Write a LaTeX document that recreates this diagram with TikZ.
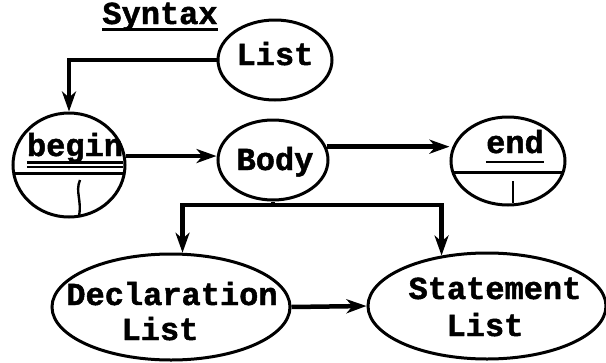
\documentclass[tikz,border=0pt]{standalone}
\usepackage{fontspec}
\setmonofont{Liberation Mono}[BoldFeatures={FakeBold=1.5}]
\usetikzlibrary{shapes.geometric,arrows.meta}
\begin{document}
\begin{tikzpicture}[x=1pt,y=-1pt,
    bubble/.style={draw,ellipse,line width=3pt,inner sep=0pt},
    word/.style={inner sep=0pt,anchor=base,font=\ttfamily\bfseries\fontsize{32}{36}\selectfont},
    flow/.style={line width=4.5pt,-{Stealth[length=20pt,width=14pt,inset=6pt]}},
    rule/.style={line width=2.4pt}]
    \useasboundingbox[fill=white] (0,0) rectangle (606,362);
        \draw
        (275,60) node[bubble,minimum width=114pt,minimum height=80pt] (list) {}
        (69,165) node[bubble,minimum width=112pt,minimum height=104pt] (beginN) {}
        (273,160) node[bubble,minimum width=110pt,minimum height=80pt] (body) {}
        (508,161) node[bubble,minimum width=114pt,minimum height=88pt] (endN) {}
        (171,307) node[bubble,minimum width=238pt,minimum height=106pt] (decl) {}
        (487,306) node[bubble,minimum width=238pt,minimum height=106pt] (stmt) {}
        (160,24) node[word] (syntaxT) {Syntax}
        (275,65) node[word] (listT) {List}
        (75,156) node[word] (beginT) {begin}
        (275,170) node[word] (bodyT) {Body}
        (515,153) node[word] (endT) {end}
        (172,305) node[word] (declA) {Declaration}
        (160,340) node[word] (declB) {List}
        (495,299) node[word] (stmtA) {Statement}
        (485,336) node[word] (stmtB) {List}
        ;
        \draw[rule,line width=3pt] ([yshift=-5pt]syntaxT.base west) -- ([yshift=-5pt]syntaxT.base east);
        \draw[rule,line width=3pt] ([yshift=-6pt]beginT.base west) -- ([yshift=-6pt]beginT.base east);
        \draw[rule] ([yshift=-11pt]beginT.base west) -- ([yshift=-11pt]beginT.base east);
        \draw[rule] ([yshift=-9pt]endT.base west) -- ([yshift=-9pt]endT.base east);
        \draw[rule,line width=3pt,shorten <=1.5pt,shorten >=1.5pt] ([yshift=-8pt]beginN.west) -- ([yshift=-8pt]beginN.east);
        \draw[rule,line width=3pt,shorten <=3pt,shorten >=3pt] ([yshift=-11pt]endN.west) -- ([yshift=-11pt]endN.east);
        \draw[rule] ([shift={(11,15)}]beginN.center) .. controls ([shift={(6,27)}]beginN.center) and ([shift={(13,35)}]beginN.center) .. ([shift={(10,51)}]beginN.center);
        \draw[rule] ([shift={(5,20)}]endN.center) -- ([shift={(5,42)}]endN.center);
        \coordinate (fork) at (273,205);
        \draw[flow] (list.west) -| (beginN.north);
        \draw[flow] (beginN.9) -- (beginN.9 -| body.west);
        \draw[flow] (body.14) -- (body.14 -| endN.west);
        \draw[flow] (body.south) -- (fork) -| (decl.78);
        \draw[flow] (fork) -| (stmt.132);
        \draw[flow] (decl.east) -- (stmt.west);
    \end{tikzpicture}
\end{document}
